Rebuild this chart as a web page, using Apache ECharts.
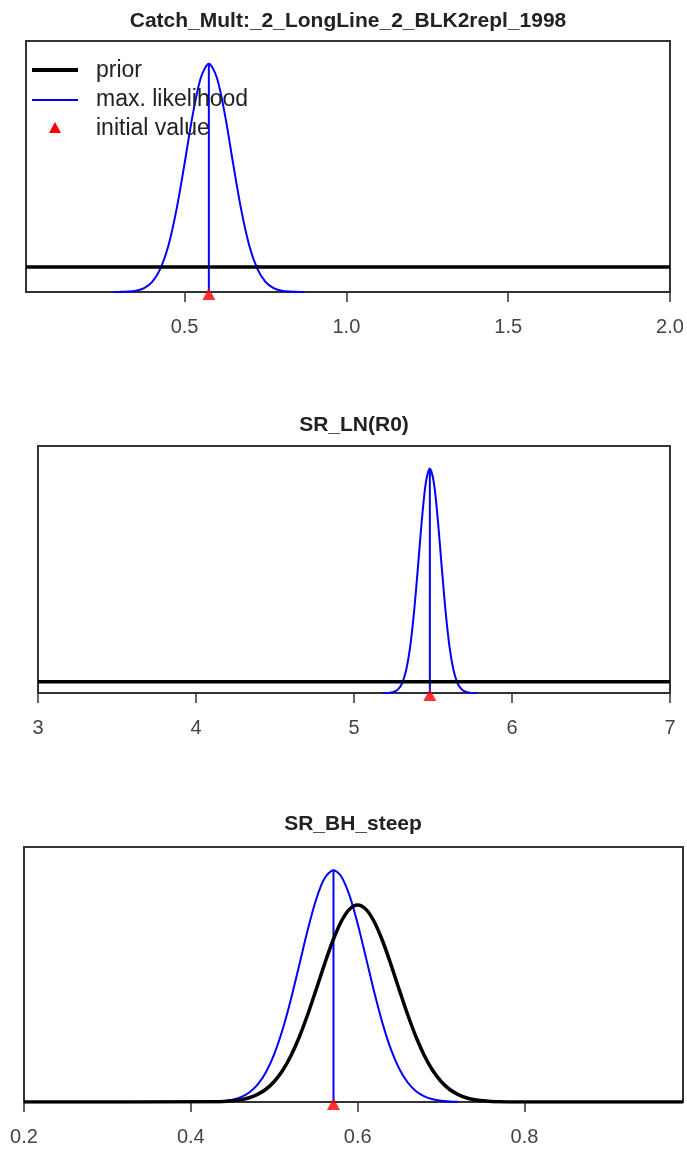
<!DOCTYPE html>
<html>
<head>
<meta charset="utf-8">
<script src="https://cdn.jsdelivr.net/npm/echarts@6/dist/echarts.min.js"></script>
<style>
html,body{margin:0;padding:0;background:#fff;}
#chart{width:687px;height:1156px;}
</style>
</head>
<body>
<div id="chart"></div>
<script>
// ---------- data ----------
const titles = ['Catch_Mult:_2_LongLine_2_BLK2repl_1998', 'SR_LN(R0)', 'SR_BH_steep'];
const legendNames = ['prior', 'max. likelihood', 'initial value'];

// Panel 1: Catch_Mult
const p1Range = [0.01, 2.0];
const p1Ticks = [0.5, 1.0, 1.5, 2.0];
const p1MleX = [0.28,0.30,0.325,0.35,0.375,0.40,0.425,0.45,0.475,0.50,0.525,0.55,0.575,0.60,0.625,0.65,0.675,0.70,0.725,0.75,0.775,0.80,0.825,0.85,0.87];
const p1MleY = [0,0.0004,0.0017,0.0057,0.017,0.044,0.101,0.203,0.361,0.563,0.775,0.938,1,0.938,0.775,0.563,0.361,0.203,0.101,0.044,0.017,0.0057,0.0017,0.0004,0];
const p1PriorX = [0.01, 2.0];
const p1PriorY = [0.11, 0.11];
const p1Est = 0.575;
const p1Init = 0.575;

// Panel 2: SR_LN(R0)
const p2Range = [3, 7];
const p2Ticks = [3, 4, 5, 6, 7];
const p2MleX = [5.18,5.205,5.23,5.255,5.28,5.305,5.33,5.355,5.38,5.405,5.43,5.455,5.48,5.505,5.53,5.555,5.58,5.605,5.63,5.655,5.68,5.705,5.73,5.755,5.78];
const p2MleY = [0.0001,0.0004,0.0017,0.0057,0.017,0.044,0.101,0.203,0.361,0.563,0.775,0.938,1,0.938,0.775,0.563,0.361,0.203,0.101,0.044,0.017,0.0057,0.0017,0.0004,0.0001];
const p2PriorX = [3, 7];
const p2PriorY = [0.05, 0.05];
const p2Est = 5.48;
const p2Init = 5.48;

// Panel 3: SR_BH_steep
const p3Range = [0.2, 0.99];
const p3Ticks = [0.2, 0.4, 0.6, 0.8];
const p3MleX = [0.43,0.44,0.45,0.46,0.47,0.48,0.49,0.50,0.51,0.52,0.53,0.54,0.55,0.56,0.571,0.58,0.59,0.60,0.61,0.62,0.63,0.64,0.65,0.66,0.67,0.68,0.69,0.70,0.71,0.72];
const p3MleY = [0.002,0.0047,0.0103,0.0213,0.0413,0.0752,0.1287,0.207,0.3126,0.4436,0.5914,0.7406,0.8713,0.9629,1,0.975,0.8933,0.7689,0.6217,0.4722,0.337,0.2259,0.1422,0.0841,0.0468,0.0244,0.012,0.0055,0.0024,0.001];
const p3PriorX = [0.2,0.43,0.44,0.45,0.46,0.47,0.48,0.49,0.50,0.51,0.52,0.53,0.54,0.55,0.56,0.57,0.58,0.59,0.60,0.61,0.62,0.63,0.64,0.65,0.66,0.67,0.68,0.69,0.70,0.71,0.72,0.73,0.74,0.75,0.76,0.77,0.78,0.99];
const p3PriorY = [0,0.0012,0.0026,0.0052,0.0101,0.0185,0.0327,0.055,0.0884,0.1359,0.1997,0.2804,0.3763,0.4827,0.5918,0.6934,0.7765,0.831,0.85,0.831,0.7765,0.6934,0.5918,0.4827,0.3763,0.2804,0.1997,0.1359,0.0884,0.055,0.0327,0.0185,0.0101,0.0052,0.0026,0.0012,0.0005,0];
const p3Est = 0.571;
const p3Init = 0.571;

const yMax = 1.1;

// ---------- build ----------
const zip = (xs, ys) => xs.map((x, i) => [x, ys[i]]);
const FONT = '"Liberation Sans", Arial, sans-serif';
const BLUE = '#0000ff', BLACK = '#000000', RED = '#ff0000', AX = '#333333';

const grids = [
  {left: 26, right: 17, top: 41, height: 251},
  {left: 38, right: 17, top: 446, height: 247},
  {left: 24, right: 4, top: 847, height: 255}
];
const titleCenters = [[348, 11], [354, 415], [353, 814]];

const panels = [
  {range: p1Range, ticks: p1Ticks, mle: zip(p1MleX, p1MleY), prior: zip(p1PriorX, p1PriorY), est: p1Est, init: p1Init, dec: 1},
  {range: p2Range, ticks: p2Ticks, mle: zip(p2MleX, p2MleY), prior: zip(p2PriorX, p2PriorY), est: p2Est, init: p2Init, dec: 0},
  {range: p3Range, ticks: p3Ticks, mle: zip(p3MleX, p3MleY), prior: zip(p3PriorX, p3PriorY), est: p3Est, init: p3Init, dec: 1}
];

const xAxes = [], yAxes = [], series = [];
panels.forEach((p, i) => {
  xAxes.push({
    type: 'value', gridIndex: i, min: p.range[0], max: p.range[1],
    axisLine: {show: true, onZero: false, lineStyle: {color: AX, width: 1.5}},
    axisTick: {show: true, inside: false, length: 10, customValues: p.ticks, lineStyle: {color: AX, width: 1.5}},
    axisLabel: {show: true, customValues: p.ticks, margin: 25, color: '#444', fontSize: 20, fontFamily: FONT,
      formatter: v => Number(v).toFixed(p.dec)},
    splitLine: {show: false}
  });
  yAxes.push({type: 'value', gridIndex: i, min: 0, max: yMax, show: false, splitLine: {show: false}});
  series.push({
    name: 'prior', type: 'line', xAxisIndex: i, yAxisIndex: i, data: p.prior, symbol: 'none',
    smooth: 0.3, lineStyle: {color: BLACK, width: 3.5}, z: 3, silent: true
  });
  series.push({
    name: 'max. likelihood', type: 'line', xAxisIndex: i, yAxisIndex: i, data: p.mle, symbol: 'none',
    smooth: 0.3, lineStyle: {color: BLUE, width: 2}, z: 2, silent: true
  });
  series.push({
    name: 'max. likelihood', type: 'line', xAxisIndex: i, yAxisIndex: i, data: [[p.est, 0], [p.est, 1]], symbol: 'none',
    lineStyle: {color: BLUE, width: 2}, z: 2, silent: true
  });
  series.push({
    name: 'initial value', type: 'scatter', xAxisIndex: i, yAxisIndex: i, data: [[p.init, 0]],
    symbol: 'triangle', symbolSize: [13, 12], symbolOffset: [0, 2], clip: false,
    itemStyle: {color: RED}, z: 5, silent: true
  });
});

const chart = echarts.init(document.getElementById('chart'), null, {renderer: 'canvas'});
chart.setOption({
  animation: false,
  backgroundColor: '#ffffff',
  title: titles.map((t, i) => ({
    text: t, left: titleCenters[i][0], top: titleCenters[i][1], textAlign: 'center', padding: 0,
    textStyle: {fontFamily: FONT, fontWeight: 'bold', fontSize: 21, color: '#222'}
  })),
  grid: grids.map(g => Object.assign({show: true, borderColor: AX, borderWidth: 2, backgroundColor: 'transparent'}, g)),
  xAxis: xAxes,
  yAxis: yAxes,
  series: series,
  graphic: [
    {type: 'line', shape: {x1: 32, y1: 70, x2: 78, y2: 70}, style: {stroke: BLACK, lineWidth: 4}, z: 10},
    {type: 'text', left: 96, top: 59, style: {text: legendNames[0], fontFamily: FONT, fontSize: 23, fill: '#222'}, z: 10},
    {type: 'line', shape: {x1: 32, y1: 100, x2: 78, y2: 100}, style: {stroke: BLUE, lineWidth: 2}, z: 10},
    {type: 'text', left: 96, top: 88, style: {text: legendNames[1], fontFamily: FONT, fontSize: 23, fill: '#222'}, z: 10},
    {type: 'polygon', shape: {points: [[55, 122], [49, 133], [61, 133]]}, style: {fill: RED}, z: 10},
    {type: 'text', left: 96, top: 117, style: {text: legendNames[2], fontFamily: FONT, fontSize: 23, fill: '#222'}, z: 10}
  ]
});
</script>
</body>
</html>
